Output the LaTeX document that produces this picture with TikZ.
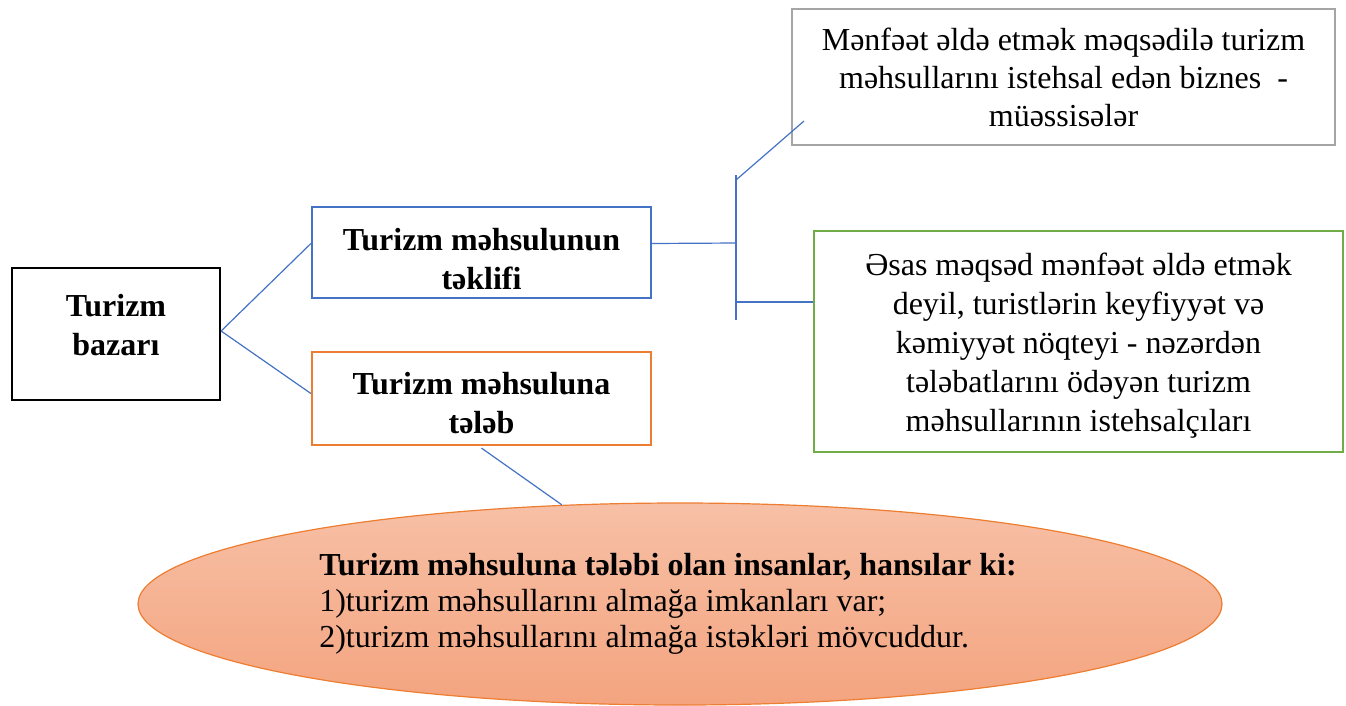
\documentclass[tikz,border=0pt]{standalone}
\usepackage{fontspec}
\setmainfont{Liberation Serif}
\usetikzlibrary{shapes.geometric}
\definecolor{linkblue}{HTML}{4472C4}
\definecolor{demandorange}{HTML}{ED7D31}
\definecolor{firmgray}{HTML}{A5A5A5}
\definecolor{producergreen}{HTML}{70AD47}
\definecolor{ovaltop}{HTML}{F7C0A6}
\definecolor{ovalbottom}{HTML}{F4A47F}
% invisible struts to set where the lines sit inside a box
\newcommand{\topstrut}[1]{\rule{0pt}{#1}}
\newcommand{\botstrut}[1]{\rule[-#1]{0pt}{#1}}
\begin{document}
\begin{tikzpicture}[x=1pt, y=-1pt,
  every node/.style={font=\fontsize{32}{38}\selectfont, align=center, inner sep=0pt},
  box/.style={draw, fill=white, line width=2.2pt},
  titlebox/.style={box, minimum width=339pt, font=\fontsize{32}{39}\selectfont\bfseries},
  link/.style={linkblue, line width=1.2pt}]
  \useasboundingbox (0,0) rectangle (1346,705);
  % market and its two sides
  \node[box, draw=black, minimum width=208pt, minimum height=132pt, font=\fontsize{32}{39}\selectfont\bfseries] (bazar) at (116,334) {\topstrut{24pt}Turizm\\bazarı\botstrut{20pt}};
  \node[titlebox, draw=linkblue, minimum height=91pt] (teklif) at (481.5,252.5) {\topstrut{40pt}Turizm məhsulunun\\təklifi\botstrut{5pt}};
  \node[titlebox, draw=demandorange, minimum height=93pt] (teleb) at (481.5,398.5) {\topstrut{40pt}Turizm məhsuluna\\tələb\botstrut{10pt}};
  % supply side
  \node[box, draw=firmgray, line width=2.6pt, minimum width=543pt, minimum height=136pt] (firms) at (1063.5,77) {Mənfəət əldə etmək məqsədilə turizm\\məhsullarını istehsal edən biznes\ \ -\\müəssisələr};
  \node[box, draw=producergreen, minimum width=529pt, minimum height=221pt, font=\fontsize{32}{39}\selectfont] (producers) at (1078.5,341.5) {\topstrut{31pt}Əsas məqsəd mənfəət əldə etmək\\deyil, turistlərin keyfiyyət və\\kəmiyyət nöqteyi - nəzərdən\\tələbatlarını ödəyən turizm\\məhsullarının istehsalçıları\botstrut{8pt}};
  % demand side
  \node[ellipse, draw=demandorange, line width=1.2pt, top color=ovaltop, bottom color=ovalbottom, minimum width=1084pt, minimum height=202pt, align=left, font=\fontsize{32}{36}\selectfont] (oval) at (680,604) {\textbf{Turizm məhsuluna tələbi olan insanlar, hansılar ki:}\rule{24pt}{0pt}\\1)turizm məhsullarını almağa imkanları var;\\2)turizm məhsullarını almağa istəkləri mövcuddur.};
  % connectors
  \coordinate (fork) at (736,243);
  \coordinate (trunktop) at (736,175);
  \coordinate (trunkbot) at (736,320);
  \coordinate (branchup) at (736,180);
  \coordinate (branchlow) at (736,302);
  \coordinate (firmtip) at (804,121);
  \draw[link] ([yshift=3pt]bazar.east) -- ([yshift=9pt]teklif.west);
  \draw[link] ([yshift=3pt]bazar.east) -- ([yshift=5pt]teleb.west);
  \draw[link] ([yshift=9pt]teklif.east) -- (fork);
  \draw[link] (trunktop) -- (trunkbot);
  \draw[link] (branchup) -- (firmtip);
  \draw[link] (branchlow) -- (branchlow -| producers.west);
  \draw[link] ([yshift=-2pt]teleb.south) -- (oval.140);
\end{tikzpicture}
\end{document}
